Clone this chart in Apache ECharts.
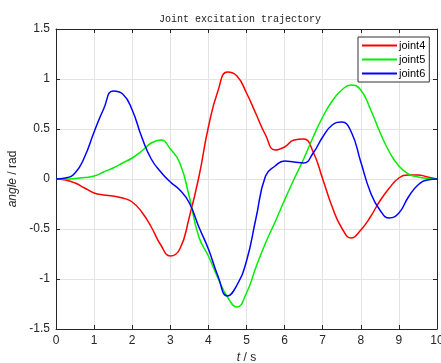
<!DOCTYPE html>
<html>
<head>
<meta charset="utf-8">
<script src="https://cdn.jsdelivr.net/npm/echarts@6/dist/echarts.min.js"></script>
<style>
  html, body { margin: 0; padding: 0; background: #fff; }
  #main { width: 441px; height: 363px; }
</style>
</head>
<body>
<div id="main"></div>
<script>
// time samples (s) and joint angles (rad)
var times = [0, 0.25, 0.5, 0.75, 1, 1.25, 1.5, 1.75, 2, 2.25, 2.5, 2.75, 3, 3.25, 3.5, 3.75, 4, 4.25, 4.5, 4.75, 5,
  5.25, 5.5, 5.75, 6, 6.25, 6.5, 6.75, 7, 7.25, 7.5, 7.75, 8, 8.25, 8.5, 8.75, 9, 9.25, 9.5, 9.75, 10];
var joint4 = [0, -0.01, -0.04, -0.09, -0.14, -0.16, -0.17, -0.19, -0.23, -0.33, -0.48, -0.66, -0.77, -0.70, -0.38, 0.02, 0.52,
  0.88, 1.07, 1.03, 0.86, 0.65, 0.44, 0.29, 0.32, 0.39, 0.40, 0.27, 0.0, -0.28, -0.49, -0.59, -0.51, -0.38, -0.22, -0.09, 0.01,
  0.04, 0.04, 0.02, 0];
var joint5 = [0, 0, 0.005, 0.015, 0.03, 0.07, 0.11, 0.16, 0.21, 0.28, 0.36, 0.39, 0.30, 0.16, -0.18, -0.58, -0.77,
  -0.99, -1.18, -1.28, -1.14, -0.88, -0.64, -0.43, -0.21, 0, 0.2, 0.42, 0.62, 0.78, 0.89, 0.94, 0.89, 0.70, 0.47, 0.27, 0.13,
  0.05, 0.02, 0.005, 0];
var joint6 = [0, 0.01, 0.06, 0.22, 0.47, 0.70, 0.88, 0.85, 0.69, 0.42, 0.20, 0.07, -0.03, -0.11, -0.24, -0.48, -0.70,
  -0.97, -1.17, -1.06, -0.82, -0.39, 0.03, 0.13, 0.18, 0.17, 0.16, 0.26, 0.42, 0.54, 0.57, 0.47, 0.17, -0.13, -0.31, -0.39, -0.34,
  -0.18, -0.06, -0.01, 0];
var names = ['joint4', 'joint5', 'joint6'];
var colors = ['#ff0000', '#00ee00', '#0000ff'];

function pairs(vals) {
  var out = [];
  for (var i = 0; i < times.length; i++) out.push([times[i], vals[i]]);
  return out;
}

var chart = echarts.init(document.getElementById('main'));
var axisCol = '#262626';
var labelFont = { color: axisCol, fontSize: 12, fontFamily: 'Liberation Sans, Arial, sans-serif' };

var option = {
  animation: false,
  backgroundColor: '#fff',
  title: {
    text: 'Joint excitation trajectory',
    left: 154, top: 9,
    textStyle: { fontFamily: 'Liberation Mono, DejaVu Sans Mono, monospace', fontSize: 10, fontWeight: 'normal', color: '#222' }
  },
  grid: { left: 56, right: 4, top: 29, bottom: 34, outerBoundsMode: 'none', containLabel: false },
  legend: {
    orient: 'vertical', left: 358, top: 37,
    padding: [3, 4, 3, 4], itemGap: 3,
    itemWidth: 35, itemHeight: 2, icon: 'rect',
    backgroundColor: '#fff', borderColor: '#333', borderWidth: 1, borderRadius: 0,
    textStyle: { fontSize: 11, color: '#000', fontFamily: 'Liberation Sans, Arial, sans-serif', padding: [0, 0, 0, -3] },
    data: names
  },
  xAxis: [{
    type: 'value', min: 0, max: 10, interval: 1,
    name: '{i|t} / s', nameLocation: 'middle', nameGap: 23,
    nameTextStyle: { color: axisCol, fontSize: 12, rich: { i: { fontStyle: 'italic', fontSize: 12, color: axisCol } } },
    axisLine: { show: true, onZero: false, lineStyle: { color: axisCol, width: 1 } },
    axisTick: { show: true, inside: true, length: 4, lineStyle: { color: axisCol } },
    axisLabel: Object.assign({ margin: 6 }, labelFont),
    splitLine: { show: true, lineStyle: { color: '#e3e3e3', width: 1 } }
  }, {
    type: 'value', position: 'top', min: 0, max: 10, interval: 1,
    axisLine: { show: true, onZero: false, lineStyle: { color: axisCol, width: 1 } },
    axisTick: { show: true, inside: true, length: 4, lineStyle: { color: axisCol } },
    axisLabel: { show: false }, splitLine: { show: false }
  }],
  yAxis: [{
    type: 'value', min: -1.5, max: 1.5, interval: 0.5,
    name: '{i|angle} / rad', nameLocation: 'middle', nameGap: 34,
    nameTextStyle: { color: axisCol, fontSize: 12, rich: { i: { fontStyle: 'italic', fontSize: 12, color: axisCol } } },
    axisLine: { show: true, onZero: false, lineStyle: { color: axisCol, width: 1 } },
    axisTick: { show: true, inside: true, length: 4, lineStyle: { color: axisCol } },
    axisLabel: Object.assign({ margin: 6 }, labelFont),
    splitLine: { show: true, lineStyle: { color: '#e3e3e3', width: 1 } }
  }, {
    type: 'value', position: 'right', min: -1.5, max: 1.5, interval: 0.5,
    axisLine: { show: true, onZero: false, lineStyle: { color: axisCol, width: 1 } },
    axisTick: { show: true, inside: true, length: 4, lineStyle: { color: axisCol } },
    axisLabel: { show: false }, splitLine: { show: false }
  }],
  series: [joint4, joint5, joint6].map(function (vals, k) {
    return {
      name: names[k], type: 'line', data: pairs(vals),
      smooth: true, showSymbol: false, symbol: 'none',
      itemStyle: { color: colors[k] },
      lineStyle: { color: colors[k], width: 1.5 }
    };
  })
};
chart.setOption(option);
</script>
</body>
</html>
